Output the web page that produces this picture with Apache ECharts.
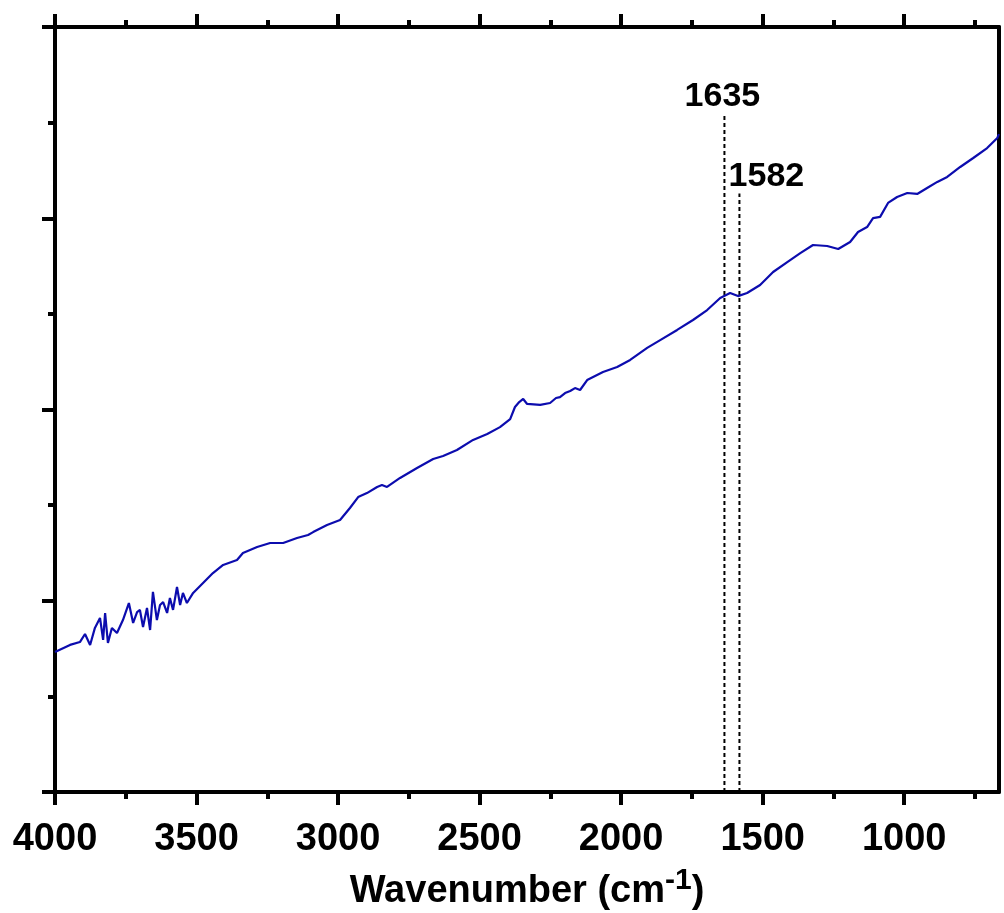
<!DOCTYPE html>
<html>
<head>
<meta charset="utf-8">
<script src="https://cdn.jsdelivr.net/npm/echarts@6/dist/echarts.min.js"></script>
<style>
  html, body { margin: 0; padding: 0; background: #fff; }
  #chart { width: 1004px; height: 913px; }
</style>
</head>
<body>
<div id="chart"></div>
<script>
// spectrum (x = wavenumber, y = arbitrary units)
var wavenumber = [4000, 3947, 3912, 3894, 3876, 3859, 3841, 3830, 3823, 3813, 3799, 3781, 3760, 3739, 3724, 3710, 3700, 3689, 3675, 3664,
  3654, 3640, 3629, 3618, 3604, 3594, 3583, 3569, 3558, 3548, 3534, 3512, 3477, 3442, 3406, 3357, 3336, 3286, 3240, 3194,
  3145, 3106, 3088, 3039, 2993, 2958, 2929, 2898, 2862, 2845, 2827, 2781, 2721, 2664, 2629, 2580, 2523, 2473, 2428, 2392,
  2375, 2360, 2346, 2332, 2286, 2251, 2230, 2216, 2198, 2180, 2163, 2145, 2120, 2064, 2014, 1968, 1908, 1862, 1802, 1746,
  1696, 1650, 1615, 1587, 1555, 1509, 1463, 1413, 1367, 1322, 1272, 1233, 1191, 1163, 1131, 1110, 1085, 1057, 1025, 989,
  954, 919, 883, 848, 802, 756, 707, 671, 665];
var intensity = [0.732, 0.769, 0.784, 0.826, 0.769, 0.858, 0.910, 0.795, 0.936, 0.779, 0.858, 0.831, 0.899, 0.988, 0.884, 0.941, 0.952, 0.863, 0.962, 0.847,
  1.046, 0.899, 0.978, 0.993, 0.936, 1.014, 0.952, 1.072, 0.978, 1.041, 0.988, 1.041, 1.093, 1.145, 1.187, 1.213, 1.250, 1.281, 1.302, 1.302,
  1.328, 1.344, 1.359, 1.396, 1.422, 1.485, 1.542, 1.563, 1.595, 1.605, 1.595, 1.642, 1.694, 1.741, 1.757, 1.788, 1.841, 1.872, 1.908, 1.950,
  2.013, 2.039, 2.055, 2.029, 2.024, 2.034, 2.060, 2.065, 2.086, 2.097, 2.112, 2.102, 2.154, 2.196, 2.222, 2.259, 2.322, 2.363, 2.416, 2.468,
  2.520, 2.583, 2.609, 2.593, 2.609, 2.651, 2.719, 2.771, 2.818, 2.860, 2.855, 2.839, 2.876, 2.928, 2.954, 3.001, 3.007, 3.080, 3.111, 3.132,
  3.127, 3.158, 3.190, 3.216, 3.268, 3.315, 3.367, 3.420, 3.440];

// marked bands
var peakPositions = [1635, 1582];
var peakTops = [3.54, 3.13];
var peakLabels = ['1635', '1582'];

var xMajorTicks = [1000, 1500, 2000, 2500, 3000, 3500, 4000];
var xMinorTicks = [750, 1250, 1750, 2250, 2750, 3250, 3750];

var chart = echarts.init(document.getElementById('chart'));

var fontFamily = '"Liberation Sans", Arial, sans-serif';
var axisLineStyle = { color: '#000', width: 4 };

function xAxisCfg(position, ticks, tickLen, showLabel, showLine) {
  return {
    type: 'value',
    position: position,
    min: 665,
    max: 4000,
    inverse: true,
    splitLine: { show: false },
    axisLine: { show: showLine, onZero: false, lineStyle: axisLineStyle },
    axisTick: {
      show: true,
      inside: false,
      length: tickLen,
      customValues: ticks,
      lineStyle: { color: '#000', width: 4 }
    },
    axisLabel: {
      show: showLabel,
      customValues: ticks,
      formatter: function (v) { return String(v); },
      margin: 29,
      color: '#000',
      fontSize: 38,
      fontWeight: 'bold',
      fontFamily: fontFamily
    }
  };
}

var spectrumData = wavenumber.map(function (w, i) { return [w, intensity[i]]; });

var peakSeries = peakPositions.map(function (p, i) {
  return {
    type: 'line',
    xAxisIndex: 0,
    yAxisIndex: 0,
    symbol: 'circle',
    symbolSize: 0,
    showSymbol: true,
    silent: true,
    z: 1,
    lineStyle: { color: '#000', width: 2, type: [4, 3] },
    itemStyle: { color: '#000' },
    data: [
      [p, 0],
      {
        value: [p, peakTops[i]],
        label: {
          show: true,
          position: 'top',
          distance: 4,
          offset: i === 0 ? [-2, 3] : [27, 4],
          formatter: peakLabels[i],
          color: '#000',
          fontSize: 34,
          fontWeight: 'bold',
          fontFamily: fontFamily
        }
      }
    ]
  };
});

var option = {
  backgroundColor: '#fff',
  animation: false,
  grid: { left: 55, right: 5, top: 27, bottom: 121, containLabel: false, outerBoundsMode: 'none' },
  xAxis: [
    Object.assign(xAxisCfg('bottom', xMajorTicks, 13, true, true), {
      name: '{a|Wavenumber (cm}{b|-1}{a|)}',
      nameLocation: 'middle',
      nameGap: 74,
      nameTextStyle: {
        rich: {
          a: { fontSize: 38, fontWeight: 'bold', color: '#000', fontFamily: fontFamily },
          b: { fontSize: 30, fontWeight: 'bold', color: '#000', fontFamily: fontFamily, padding: [0, 0, 22, 0] }
        }
      }
    }),
    xAxisCfg('top', xMajorTicks, 13, false, true),
    xAxisCfg('bottom', xMinorTicks, 7, false, false),
    xAxisCfg('top', xMinorTicks, 7, false, false)
  ],
  yAxis: [
    {
      type: 'value',
      position: 'left',
      min: 0,
      max: 4,
      interval: 1,
      splitLine: { show: false },
      axisLine: { show: true, onZero: false, lineStyle: axisLineStyle },
      axisTick: { show: true, inside: false, length: 13, lineStyle: { color: '#000', width: 4 } },
      minorTick: { show: true, splitNumber: 2, length: 7, lineStyle: { color: '#000', width: 4 } },
      axisLabel: { show: false }
    },
    {
      type: 'value',
      position: 'right',
      min: 0,
      max: 4,
      splitLine: { show: false },
      axisLine: { show: true, onZero: false, lineStyle: axisLineStyle },
      axisTick: { show: false },
      axisLabel: { show: false }
    }
  ],
  series: [
    {
      type: 'line',
      name: 'spectrum',
      xAxisIndex: 0,
      yAxisIndex: 0,
      showSymbol: false,
      z: 3,
      lineStyle: { color: '#0c0cae', width: 2.2 },
      data: spectrumData
    }
  ].concat(peakSeries)
};

chart.setOption(option);
</script>
</body>
</html>
